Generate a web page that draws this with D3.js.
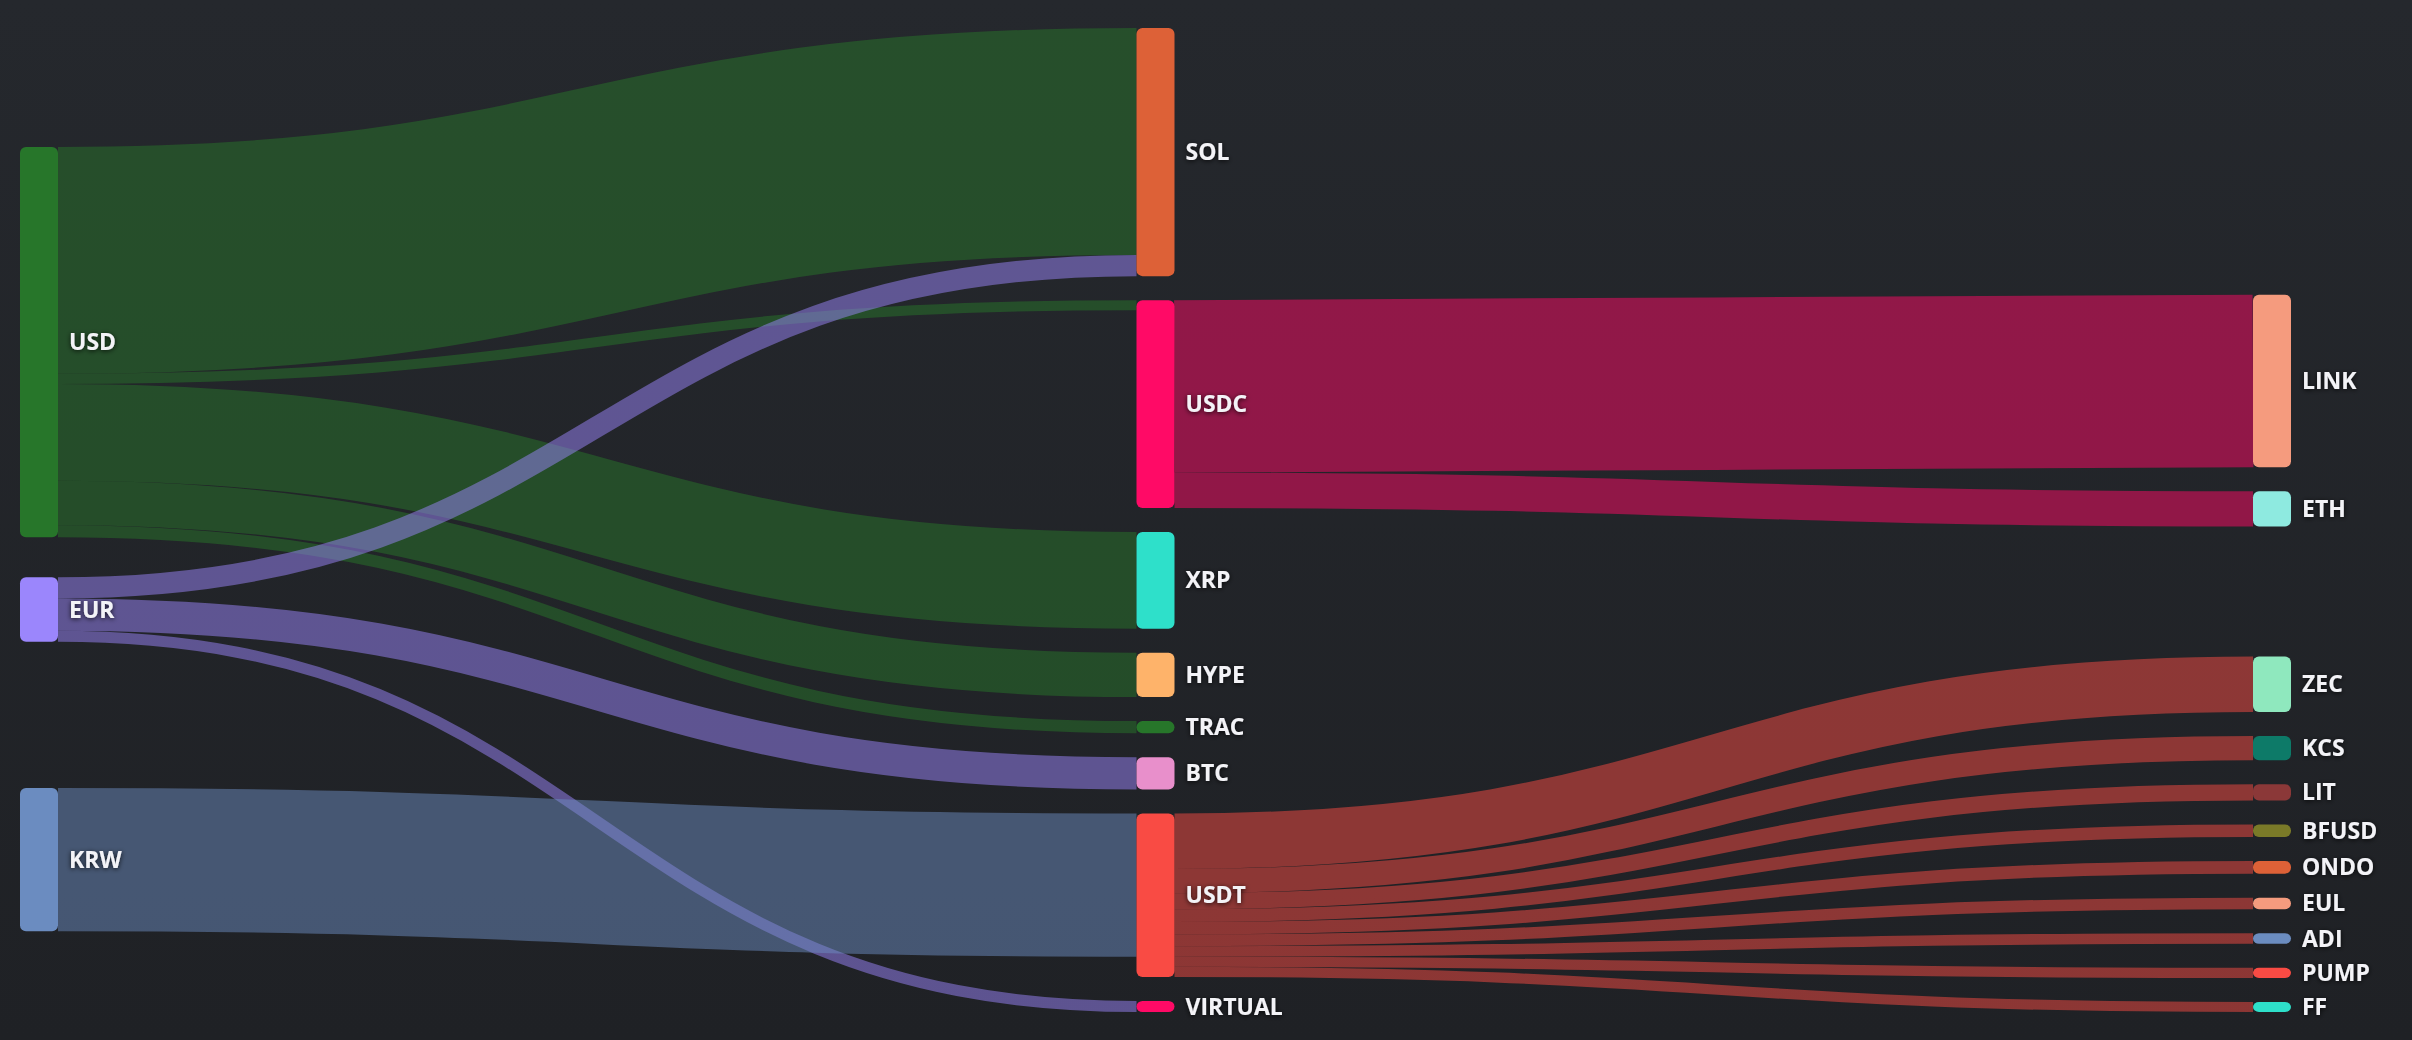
<!DOCTYPE html>
<html>
<head>
<meta charset="utf-8">
<script src="https://cdn.jsdelivr.net/npm/d3@7"></script>
<style>
  html, body { margin: 0; padding: 0; background: #222429; }
  svg { display: block; }
  .label { font-family: "Open Sans", "Noto Sans", sans-serif; font-weight: 700; font-size: 23px; fill: #f3f3f7; }
</style>
</head>
<body>
<div id="chart"></div>
<script>
// tokens / currencies, in column order
var nodeNames = ["USD", "EUR", "KRW",
  "SOL", "USDC", "XRP", "HYPE", "TRAC", "BTC", "USDT", "VIRTUAL",
  "LINK", "ETH", "ZEC", "KCS", "LIT", "BFUSD", "ONDO", "EUL", "ADI", "PUMP", "FF"];

// flows (source -> target, volume)
var linkSources = ["USD", "USD", "USD", "USD", "USD",
  "EUR", "EUR", "EUR",
  "KRW",
  "USDC", "USDC",
  "USDT", "USDT", "USDT", "USDT", "USDT", "USDT", "USDT", "USDT", "USDT"];
var linkTargets = ["SOL", "USDC", "XRP", "HYPE", "TRAC",
  "SOL", "BTC", "VIRTUAL",
  "USDT",
  "LINK", "ETH",
  "ZEC", "KCS", "LIT", "BFUSD", "ONDO", "EUL", "ADI", "PUMP", "FF"];
var linkValues = [225, 10, 96, 44, 12,
  21, 32, 11,
  142,
  171, 35,
  55, 24, 16, 12.5, 12.5, 11.5, 10.5, 10, 10];

// node colours
var palette = ["#27762a", "#9b86fc", "#6b8cc0",
  "#dd6137", "#ff0a66", "#2ee0ca", "#feb36a", "#27762a", "#e88fcb", "#f94b44", "#ff0a66",
  "#f59b7e", "#8eeae0", "#8fe8be", "#0d7a68", "#8b3838", "#7a7a28", "#dd6137", "#f59b7e", "#6b8cc0", "#f94b44", "#2ee0ca"];

var width = 2412;
var height = 1040;

// layout box
var extLeft = 20, extTop = 28, extRight = 2291, extBottom = 1012;
var nodeWidth = 38;
var nodePadding = 24;
var iterations = 100;

var color = d3.scaleOrdinal().domain(nodeNames).range(palette);

// build graph
var nodes = nodeNames.map(function(name, i) {
  return { name: name, index: i, sourceLinks: [], targetLinks: [] };
});
var byName = {};
nodes.forEach(function(n) { byName[n.name] = n; });
var links = linkValues.map(function(v, i) {
  var l = { source: byName[linkSources[i]], target: byName[linkTargets[i]], value: v, index: i };
  l.source.sourceLinks.push(l);
  l.target.targetLinks.push(l);
  return l;
});

function value(d) { return d.value; }

// node values
nodes.forEach(function(n) {
  n.value = Math.max(d3.sum(n.sourceLinks, value), d3.sum(n.targetLinks, value));
});

// depths (left aligned)
var current = new Set(nodes), next = new Set(), depth = 0;
while (current.size) {
  current.forEach(function(n) {
    n.depth = depth;
    n.sourceLinks.forEach(function(l) { next.add(l.target); });
  });
  depth++;
  current = next;
  next = new Set();
}
var nCols = d3.max(nodes, function(n) { return n.depth; }) + 1;

var xScale = d3.scaleLinear().domain([0, nCols - 1]).range([extLeft, extRight - nodeWidth]);

var columns = d3.range(nCols).map(function() { return []; });
nodes.forEach(function(n) {
  n.x0 = xScale(n.depth);
  n.x1 = n.x0 + nodeWidth;
  columns[n.depth].push(n);
});

// vertical scale from the fullest column
var ky = d3.min(columns, function(c) {
  return (extBottom - extTop - (c.length - 1) * nodePadding) / d3.sum(c, value);
});
var yScale = d3.scaleLinear().domain([0, 1]).range([0, ky]);

function center(n) { return (n.y0 + n.y1) / 2; }

// initial breadths: nodes stacked in input order
columns.forEach(function(col) {
  col.forEach(function(n, i) {
    n.y0 = i;
    n.y1 = i + yScale(n.value);
  });
});
links.forEach(function(l) { l.width = yScale(l.value); });

// keep input order, push overlapping nodes down, then back up from the bottom
function resolveCollisions() {
  columns.forEach(function(col) {
    var y = extTop, n = col.length, node, dy, i;
    for (i = 0; i < n; i++) {
      node = col[i];
      dy = y - node.y0;
      if (dy > 0) { node.y0 += dy; node.y1 += dy; }
      y = node.y1 + nodePadding;
    }
    dy = y - nodePadding - extBottom;
    if (dy > 0) {
      node.y0 -= dy; node.y1 -= dy;
      y = node.y0;
      for (i = n - 2; i >= 0; --i) {
        node = col[i];
        dy = node.y1 + nodePadding - y;
        if (dy > 0) { node.y0 -= dy; node.y1 -= dy; }
        y = node.y0;
      }
    }
  });
}

// move each node toward the weighted centre of the nodes it feeds
function relaxRightToLeft(alpha) {
  columns.slice().reverse().forEach(function(col) {
    col.forEach(function(node) {
      if (node.sourceLinks.length) {
        var c = d3.sum(node.sourceLinks, function(l) { return center(l.target) * l.value; }) /
                d3.sum(node.sourceLinks, value);
        var dy = (c - center(node)) * alpha;
        node.y0 += dy; node.y1 += dy;
      }
    });
  });
}

// move each node toward the weighted centre of the nodes feeding it
function relaxLeftToRight(alpha) {
  columns.forEach(function(col) {
    col.forEach(function(node) {
      if (node.targetLinks.length) {
        var c = d3.sum(node.targetLinks, function(l) { return center(l.source) * l.value; }) /
                d3.sum(node.targetLinks, value);
        var dy = (c - center(node)) * alpha;
        node.y0 += dy; node.y1 += dy;
      }
    });
  });
}

resolveCollisions();
for (var alpha = 1, n = iterations; n > 0; --n) {
  relaxRightToLeft(alpha *= 0.99);
  resolveCollisions();
  relaxLeftToRight(alpha);
  resolveCollisions();
}

// link breadths
nodes.forEach(function(n) {
  n.sourceLinks.sort(function(a, b) { return a.target.y0 - b.target.y0; });
  n.targetLinks.sort(function(a, b) { return a.source.y0 - b.source.y0; });
});
nodes.forEach(function(n) {
  var ya = n.y0, yb = n.y0;
  n.sourceLinks.forEach(function(l) { l.y0 = ya + l.width / 2; ya += l.width; });
  n.targetLinks.forEach(function(l) { l.y1 = yb + l.width / 2; yb += l.width; });
});

// draw
var svg = d3.select("#chart")
  .append("svg")
  .attr("width", width)
  .attr("height", height);

var defs = svg.append("defs");
var grad = defs.append("linearGradient")
  .attr("id", "bg")
  .attr("x1", 0).attr("y1", 0).attr("x2", 0).attr("y2", 1);
grad.append("stop").attr("offset", "0%").attr("stop-color", "#25282d");
grad.append("stop").attr("offset", "100%").attr("stop-color", "#1f2125");

var shadow = defs.append("filter")
  .attr("id", "shadow")
  .attr("x", "-20%").attr("y", "-40%").attr("width", "140%").attr("height", "180%");
shadow.append("feDropShadow")
  .attr("dx", 0).attr("dy", 1)
  .attr("stdDeviation", 2.5)
  .attr("flood-color", "#000")
  .attr("flood-opacity", 0.8);

svg.append("rect")
  .attr("width", width)
  .attr("height", height)
  .attr("fill", "url(#bg)");

var linkPath = d3.linkHorizontal()
  .source(function(d) { return [d.source.x1, d.y0]; })
  .target(function(d) { return [d.target.x0, d.y1]; });

svg.append("g")
  .attr("class", "links")
  .attr("fill", "none")
  .selectAll("path")
  .data(links)
  .join("path")
  .attr("d", linkPath)
  .attr("stroke", function(d) { return color(d.source.name); })
  .attr("stroke-opacity", 0.5)
  .attr("stroke-width", function(d) { return Math.max(1, d.width); });

svg.append("g")
  .attr("class", "nodes")
  .selectAll("rect")
  .data(nodes)
  .join("rect")
  .attr("x", function(d) { return d.x0; })
  .attr("y", function(d) { return d.y0; })
  .attr("width", function(d) { return d.x1 - d.x0; })
  .attr("height", function(d) { return d.y1 - d.y0; })
  .attr("rx", 6)
  .attr("fill", function(d) { return color(d.name); });

svg.append("g")
  .attr("class", "labels")
  .selectAll("text")
  .data(nodes)
  .join("text")
  .attr("class", "label")
  .attr("filter", "url(#shadow)")
  .attr("x", function(d) { return d.x1 + 11; })
  .attr("y", function(d) { return (d.y0 + d.y1) / 2; })
  .attr("dy", "0.35em")
  .text(function(d) { return d.name; });
</script>
</body>
</html>
